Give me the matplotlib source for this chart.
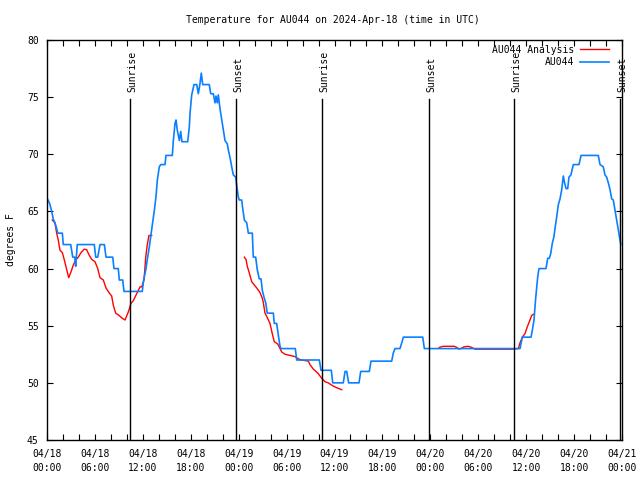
import numpy as np
import pandas as pd
import matplotlib
matplotlib.use("Agg")
import matplotlib.pyplot as plt
import matplotlib.dates as mdates

plt.rcParams['font.family'] = ['DejaVu Sans Mono']

BASE = pd.Timestamp("2024-04-18 00:00")

# AU044 observed temperature: hours since 04/18 00:00 UTC, degrees F
obs_hours = [0.05, 0.33, 0.59, 0.79, 1.0, 1.21, 1.34, 1.92, 2.04, 2.97, 3.22, 3.47, 3.59, 3.79,
             5.92, 6.1, 6.35, 6.64, 7.18, 7.39, 8.23, 8.39, 8.93, 9.05, 9.48, 9.64, 11.93, 12.1,
             12.4, 12.56, 12.81, 12.99, 13.24, 13.44, 13.65, 13.81, 14.06, 14.24, 14.78, 14.9,
             15.69, 15.82, 16.03, 16.15, 16.32, 16.57, 16.74, 16.9, 17.62, 17.82, 17.91, 18.12,
             18.41, 18.75, 18.95, 19.16, 19.32, 19.5, 20.32, 20.5, 20.82, 21.04, 21.16, 21.32,
             21.45, 21.66, 21.88, 22.08, 22.29, 22.58, 22.7, 22.95, 23.13, 23.33, 23.63, 23.75,
             23.95, 24.08, 24.38, 24.5, 24.71, 25.01, 25.21, 25.71, 25.83, 26.13, 26.33, 26.58,
             26.8, 26.96, 27.21, 27.39, 27.58, 28.34, 28.46, 28.76, 28.96, 29.18, 29.3, 31.09,
             31.27, 34.1, 34.31, 35.6, 35.78, 37.1, 37.32, 37.53, 37.77, 39.07, 39.28, 40.36,
             40.57, 43.16, 43.36, 43.58, 44.2, 44.42, 44.62, 47.05, 47.25, 59.23, 59.52, 60.61,
             60.77, 60.98, 61.19, 61.32, 61.45, 61.61, 62.48, 62.7, 62.9, 63.07, 63.27, 63.48,
             63.61, 63.82, 64.03, 64.24, 64.45, 64.65, 64.78, 64.99, 65.2, 65.36, 65.61, 65.9,
             66.62, 66.87, 69.03, 69.25, 69.66, 69.87, 70.08, 70.29, 70.5, 70.71, 70.91, 71.12,
             71.33, 71.54, 71.75, 71.85]
obs_temps = [66.1, 65.7, 65.0, 64.3, 64.0, 63.5, 63.1, 63.1, 62.1, 62.1, 61.0, 61.0, 60.2, 62.1,
             62.1, 61.0, 61.0, 62.1, 62.1, 61.0, 61.0, 60.0, 60.0, 59.0, 59.0, 58.0, 58.0, 59.0,
             60.0, 60.8, 61.9, 62.8, 64.0, 65.1, 66.3, 67.7, 68.9, 69.1, 69.1, 69.9,
             69.9, 71.2, 72.7, 73.0, 72.1, 71.2, 72.0, 71.1, 71.1, 72.4, 73.6, 75.2,
             76.1, 76.1, 75.3, 76.2, 77.1, 76.1, 76.1, 75.3, 75.3, 74.5, 75.1, 74.5,
             75.2, 74.0, 73.0, 72.1, 71.2, 70.9, 70.4, 69.6, 68.9, 68.2, 68.0, 67.3,
             66.3, 66.0, 66.0, 65.3, 64.25, 64.0, 63.1, 63.1, 61.0, 61.0, 59.9, 59.1,
             59.1, 58.1, 57.4, 57.0, 56.1, 56.1, 55.2, 55.2, 54.2, 53.2, 53.0, 53.0,
             52.0, 52.0, 51.1, 51.1, 50.0, 50.0, 51.0, 51.0, 50.0, 50.0, 51.0, 51.0,
             51.9, 51.9, 52.6, 53.0, 53.0, 53.5, 54.0, 54.0, 53.0, 53.0, 54.0, 54.0,
             54.6, 55.5, 57.4, 58.4, 59.3, 60.0, 60.0, 60.9, 60.9, 61.3, 62.2, 62.8,
             63.5, 64.5, 65.6, 66.1, 66.9, 68.1, 67.6, 67.0, 67.0, 68.0, 68.2, 69.1,
             69.1, 69.9, 69.9, 69.1, 68.9, 68.2, 68.0, 67.5, 66.9, 66.1, 66.0, 65.1,
             64.25, 63.4, 62.5, 62.1]

# AU044 Analysis (NaN = gap)
ana_hours = [0.66, 1.0, 1.21, 1.41, 1.63, 1.92, 2.17, 2.47, 2.72, 3.0, 3.29, 3.59, 3.92, 4.26,
             4.67, 4.97, 5.26, 5.6, 6.01, 6.35, 6.64, 7.05, 7.39, 7.76, 8.1, 8.3, 8.6, 9.02,
             9.43, 9.77, 10.18, 10.52, 10.81, 11.23, 11.65, 11.86, 12.15, 12.36, 12.56, 12.77,
             13.11, 18.0,
             24.71, 24.92, 25.08, 25.42, 25.63, 25.92, 26.26, 26.67, 26.96, 27.09, 27.3, 27.59,
             27.92, 28.21, 28.46, 28.89, 29.18, 29.39, 29.8, 30.43, 31.05, 31.47, 31.89, 32.72,
             32.93, 33.35, 33.68, 33.97, 34.4, 34.81, 35.22, 35.65, 36.19, 36.9, 42.0,
             49.12, 49.62, 51.0, 51.3, 51.59, 51.84, 52.21, 52.75, 53.17, 53.58, 58.19, 59.02,
             59.23, 59.52, 59.85, 60.14, 60.48, 60.69, 60.9]
ana_temps = [64.25, 64.0, 63.1, 62.5, 61.6, 61.4, 60.75, 59.9, 59.2, 59.7, 60.3, 60.75, 61.0, 61.4,
             61.7, 61.65, 61.2, 60.8, 60.6, 60.0, 59.2, 59.0, 58.3, 57.9, 57.6, 56.8, 56.1, 55.9,
             55.65, 55.5, 56.2, 56.96, 57.2, 57.8, 58.4, 58.4, 59.0, 61.0, 62.1, 62.9,
             62.9, np.nan,
             61.0, 60.8, 60.2, 59.4, 58.85, 58.6, 58.3, 57.9, 57.4, 57.0, 56.1, 55.7,
             55.2, 54.3, 53.6, 53.4, 53.0, 52.7, 52.5, 52.4, 52.3, 52.1, 52.0, 51.9,
             51.6, 51.2, 51.0, 50.8, 50.4, 50.1, 50.0, 49.8, 49.6, 49.4, np.nan,
             53.1, 53.2, 53.2, 53.1, 52.95, 53.0, 53.15, 53.2, 53.1, 52.95, 52.95, 53.0,
             53.5, 54.0, 54.3, 54.9, 55.5, 55.9, 56.0]

event_hours = [10.39, 23.7, 34.47, 47.83, 58.48, 71.75]
event_labels = ["Sunrise", "Sunset", "Sunrise", "Sunset", "Sunrise", "Sunset"]


def to_dt(hours):
    return [BASE + pd.Timedelta(hours=h) for h in hours]


fig = plt.figure(figsize=(6.4, 4.8), dpi=100)
ax = fig.add_axes([47 / 640, 40 / 480, 575 / 640, 400 / 480])

ax.plot(to_dt(ana_hours), ana_temps, color='#ff0000', lw=1.0, label='AU044 Analysis')
ax.plot(to_dt(obs_hours), obs_temps, color='#0a80ff', lw=1.2, label='AU044')

for h, lab in zip(event_hours, event_labels):
    t = BASE + pd.Timedelta(hours=h)
    ax.plot([t, t], [45, 74.85], color='black', lw=1.0)
    ax.text(mdates.date2num(t) + 0.01, 75.45, lab, rotation=90, ha='center', va='bottom',
            fontsize=7, clip_on=False)

ax.set_xlim(BASE, BASE + pd.Timedelta(hours=72))
ax.set_ylim(45, 80)
ax.xaxis.set_major_locator(mdates.HourLocator(byhour=[0, 6, 12, 18]))
ax.xaxis.set_minor_locator(mdates.HourLocator(byhour=range(0, 24, 2)))
ax.xaxis.set_major_formatter(mdates.DateFormatter('%m/%d\n%H:%M'))
ax.set_yticks([45, 50, 55, 60, 65, 70, 75, 80])
ax.tick_params(axis='both', which='both', direction='in', top=True, right=True,
               labelsize=7, width=0.8, color='black')
ax.tick_params(axis='both', which='major', length=4.5)
ax.tick_params(axis='x', which='minor', length=4)
ax.tick_params(axis='x', which='major', pad=6.5)
ax.tick_params(axis='y', which='major', pad=6)
for s in ax.spines.values():
    s.set_linewidth(1.0)

ax.set_ylabel('degrees F', fontsize=7, labelpad=8)
fig.text(333 / 640, 1 - 20 / 480, 'Temperature for AU044 on 2024-Apr-18 (time in UTC)',
         ha='center', va='center', fontsize=7)

leg = ax.legend(loc='upper right', bbox_to_anchor=(0.99, 1.005), frameon=False,
                markerfirst=False, fontsize=7, handlelength=3.0, handletextpad=0.6,
                labelspacing=0.25, borderaxespad=0.3)

fig.canvas.draw()
for lbl in ax.get_xticklabels():
    lbl.set_linespacing(1.55)

fig.savefig('out.png', dpi=100)
